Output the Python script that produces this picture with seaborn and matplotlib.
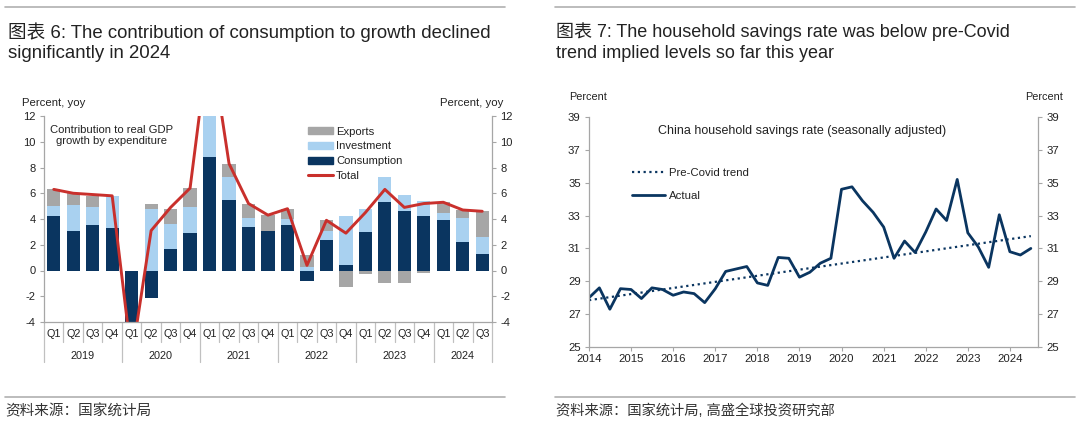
import numpy as np
import pandas as pd
import matplotlib
matplotlib.use("Agg")
import matplotlib.pyplot as plt
import matplotlib.dates as mdates
import matplotlib.transforms as mtransforms
from matplotlib.lines import Line2D
import seaborn as sns

# ---- chart 6: contribution to real GDP growth (percent, yoy) ----
years = ["2019"] * 4 + ["2020"] * 4 + ["2021"] * 4 + ["2022"] * 4 + ["2023"] * 4 + ["2024"] * 3
qtrs = ["Q1", "Q2", "Q3", "Q4"] * 5 + ["Q1", "Q2", "Q3"]
consumption = [4.2, 3.1, 3.5, 3.3, -4.4, -2.1, 1.7, 2.9, 8.8, 5.5, 3.4, 3.1,
               3.5, -0.8, 2.4, 0.4, 3.0, 5.3, 4.6, 4.2, 3.9, 2.2, 1.3]
investment = [0.8, 2.0, 1.4, 2.5, -1.5, 4.8, 1.9, 2.0, 4.0, 1.8, 0.7, 0.0,
              0.5, 0.3, 0.7, 3.8, 1.8, 2.0, 1.3, 1.2, 0.6, 1.9, 1.3]
exports = [1.3, 0.9, 0.9, 0.0, -0.9, 0.4, 1.2, 1.5, 5.5, 1.0, 1.1, 1.2,
           0.8, 0.9, 0.8, -1.3, -0.3, -1.0, -1.0, -0.2, 0.8, 0.6, 2.0]
total = [6.3, 6.0, 5.9, 5.8, -6.8, 3.1, 4.9, 6.4, 18.3, 8.3, 5.2, 4.3,
         4.8, 0.4, 3.9, 2.9, 4.5, 6.3, 4.9, 5.2, 5.3, 4.7, 4.6]

# ---- chart 7: household savings rate (percent, s.a.) ----
sav_dates = pd.date_range("2014-01-01", "2024-07-01", freq="QS")
savings = [28.0, 28.6, 27.3, 28.55, 28.5, 27.95, 28.6, 28.5, 28.15, 28.35, 28.25, 27.7,
           28.55, 29.6, 29.75, 29.9, 28.9, 28.75, 30.45, 30.4, 29.25, 29.55, 30.1, 30.4,
           34.6, 34.75, 33.9, 33.2, 32.3, 30.4, 31.45, 30.75, 32.0, 33.4, 32.7, 35.2,
           31.95, 31.1, 29.85, 33.05, 30.8, 30.6, 31.0]
trend_dates = pd.to_datetime(["2014-01-01", "2024-07-01"])
trend_vals = [27.85, 31.75]

sns.set_style("white")
FONT = ["Liberation Sans", "Noto Sans CJK SC"]
plt.rcParams["font.family"] = FONT
plt.rcParams["axes.unicode_minus"] = False
plt.rcParams["text.color"] = "#222222"
plt.rcParams["xtick.color"] = "#222222"
plt.rcParams["ytick.color"] = "#222222"

NAVY = "#0a3560"
LBLUE = "#a9d1f0"
GREY = "#a6a6a6"
RED = "#c9302c"
SPINE = "#a6a6a6"

fig = plt.figure(figsize=(10.8, 4.22), dpi=100)

# titles, rules and sources
fig.text(8 / 1080, 1 - 42 / 422, "图表 6: The contribution of consumption to growth declined\nsignificantly in 2024",
         fontsize=13.4, va="center", linespacing=1.28, color="#222222")
fig.text(556 / 1080, 1 - 42 / 422, "图表 7: The household savings rate was below pre-Covid\ntrend implied levels so far this year",
         fontsize=13.0, va="center", linespacing=1.3, color="#222222")
for x0, x1 in [(5, 505), (555, 1075)]:
    for y in (7, 397):
        fig.add_artist(Line2D([x0 / 1080, x1 / 1080], [1 - y / 422] * 2, color="#b0b0b0", lw=1.2))
fig.text(5 / 1080, 1 - 411 / 422, "资料来源：国家统计局", fontsize=10.5, va="center", color="#333333")
fig.text(556 / 1080, 1 - 411 / 422, "资料来源：国家统计局, 高盛全球投资研究部", fontsize=10.3, va="center", color="#333333")

# ---------------- left chart ----------------
ax = fig.add_axes([44 / 1080, 1 - 322 / 422, 448 / 1080, 206 / 422])
period = [y + q for y, q in zip(years, qtrs)]
df = pd.DataFrame({"period": period, "C": consumption, "I": investment, "E": exports})
pos = df[["C", "I", "E"]].clip(lower=0)
neg = df[["C", "I", "E"]].clip(upper=0)
layers = [
    ("Exports", GREY, pos["C"] + pos["I"] + pos["E"], neg["C"] + neg["I"] + neg["E"]),
    ("Investment", LBLUE, pos["C"] + pos["I"], neg["C"] + neg["I"]),
    ("Consumption", NAVY, pos["C"], neg["C"]),
]
for name, col, up, down in layers:
    for part in (up, down):
        sns.barplot(x=df["period"], y=part, order=period, color=col, saturation=1,
                    width=0.68, errorbar=None, ax=ax, linewidth=0)
sns.lineplot(x=np.arange(len(period)), y=total, color=RED, lw=2.1, ax=ax, legend=False)

ax.set_xlim(-0.5, len(period) - 0.5)
ax.set_ylim(-4, 12)
ax.set_yticks(range(-4, 13, 2))
ax.set_xticks([])
ax.set_xlabel("")
ax.set_ylabel("")
ax.tick_params(axis="y", which="both", left=True, right=True, labelleft=True, labelright=True,
               direction="out", length=3, width=0.8, color=SPINE, labelsize=8, pad=3)
for s in ("left", "right", "bottom"):
    ax.spines[s].set_color(SPINE)
    ax.spines[s].set_linewidth(0.9)
ax.spines["top"].set_visible(False)

trans = mtransforms.blended_transform_factory(ax.transData, ax.transAxes)
for i, q in enumerate(qtrs):
    ax.text(i, -0.058, q, transform=trans, ha="center", va="center", fontsize=7.8)
for i in range(len(period) + 1):
    yr_edge = i == 0 or i == len(period) or years[i] != years[i - 1]
    ax.plot([i - 0.5, i - 0.5], [0, -0.193 if yr_edge else -0.096], transform=trans,
            color="#c0c0c0", lw=0.9, clip_on=False)
for yr in dict.fromkeys(years):
    idx = [i for i, y in enumerate(years) if y == yr]
    ax.text(np.mean(idx), -0.164, yr, transform=trans, ha="center", va="center", fontsize=7.8)

ax.text(0.15, 0.905, "Contribution to real GDP\ngrowth by expenditure", transform=ax.transAxes,
        ha="center", va="center", fontsize=8.1, linespacing=1.12)
ax.text(-0.05, 1.065, "Percent, yoy", transform=ax.transAxes, ha="left", va="center", fontsize=8.2)
ax.text(1.025, 1.065, "Percent, yoy", transform=ax.transAxes, ha="right", va="center", fontsize=8.2)

handles = [plt.Rectangle((0, 0), 1, 1, color=GREY), plt.Rectangle((0, 0), 1, 1, color=LBLUE),
           plt.Rectangle((0, 0), 1, 1, color=NAVY), Line2D([], [], color=RED, lw=2.2)]
ax.legend(handles, ["Exports", "Investment", "Consumption", "Total"], loc="upper left",
          bbox_to_anchor=(0.589, 0.948), frameon=False, fontsize=8.1, handlelength=2.2,
          handleheight=0.6, handletextpad=0.3, labelspacing=0.42, borderpad=0, borderaxespad=0)

# ---------------- right chart ----------------
ax2 = fig.add_axes([589 / 1080, 1 - 347 / 422, 449 / 1080, 230 / 422])
sns.lineplot(x=trend_dates, y=trend_vals, color=NAVY, lw=1.6, linestyle=(0, (1, 1.6)), ax=ax2,
             label="Pre-Covid trend")
sns.lineplot(x=sav_dates, y=savings, color=NAVY, lw=2.0, ax=ax2, label="Actual")
ax2.set_xlim(pd.Timestamp("2014-01-01"), pd.Timestamp("2024-09-01"))
ax2.set_ylim(25, 39)
ax2.set_yticks(range(25, 40, 2))
ax2.xaxis.set_major_locator(mdates.YearLocator())
ax2.xaxis.set_major_formatter(mdates.DateFormatter("%Y"))
ax2.set_xlabel("")
ax2.set_ylabel("")
ax2.tick_params(axis="y", left=True, right=True, labelleft=True, labelright=True,
                direction="out", length=3, width=0.8, color=SPINE, labelsize=8.2, pad=3)
ax2.tick_params(axis="x", bottom=True, direction="out", length=3, width=0.8, color=SPINE,
                labelsize=8.2, pad=2)
for s in ("left", "right", "bottom"):
    ax2.spines[s].set_color(SPINE)
    ax2.spines[s].set_linewidth(0.9)
ax2.spines["top"].set_visible(False)
ax2.text(0.474, 0.939, "China household savings rate (seasonally adjusted)", transform=ax2.transAxes,
         ha="center", va="center", fontsize=9)
ax2.text(-0.045, 1.085, "Percent", transform=ax2.transAxes, ha="left", va="center", fontsize=7.8)
ax2.text(1.055, 1.085, "Percent", transform=ax2.transAxes, ha="right", va="center", fontsize=7.8)
ax2.legend(loc="upper left", bbox_to_anchor=(0.095, 0.777), frameon=False, fontsize=8.2,
           handlelength=2.9, handletextpad=0.4, labelspacing=1.15, borderpad=0, borderaxespad=0)

fig.savefig("out.png", dpi=100)
